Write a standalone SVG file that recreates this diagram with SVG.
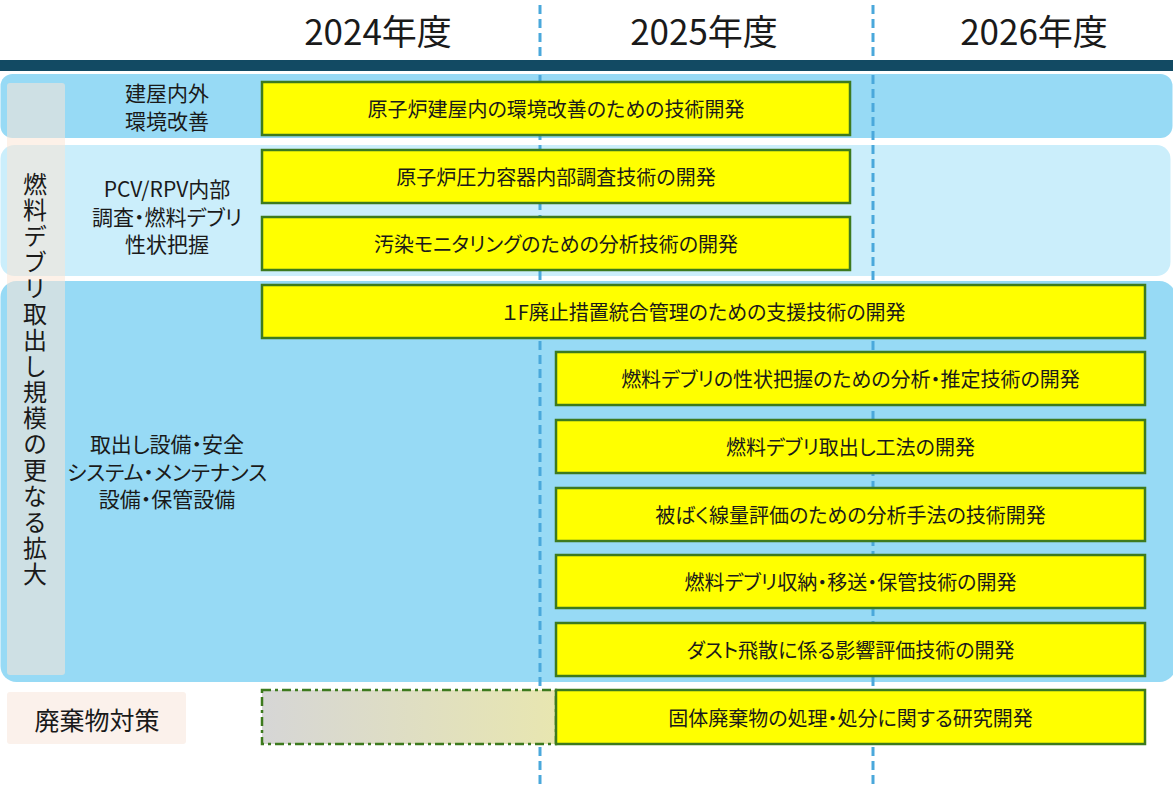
<svg xmlns="http://www.w3.org/2000/svg" width="1173" height="789" viewBox="0 0 1173 789">
<style>
text{font-family:"Noto Sans CJK JP","Noto Sans",sans-serif;fill:#1a1a1a;font-feature-settings:"palt"}
.yr{font-size:35px;text-anchor:middle}
.lbl{font-size:21px;text-anchor:middle}
.bt{font-size:20px;text-anchor:middle;dominant-baseline:central}
.box{fill:#ffff00;stroke:#3d7a1e;stroke-width:2.5}
.grid{stroke:#4aa8db;stroke-width:3;stroke-dasharray:9 5;fill:none}
</style>
<defs>
<linearGradient id="gg" x1="0" y1="0" x2="1" y2="0">
<stop offset="0" stop-color="#d6d6d6"/>
<stop offset="1" stop-color="#e8e6b0"/>
</linearGradient>
</defs>
<rect width="1173" height="789" fill="#ffffff"/>
<g id="bands">
<rect x="0.5" y="74" width="1172" height="64" rx="12" fill="#97daf5"/>
<rect x="0.5" y="145" width="1170" height="131" rx="14" fill="#cbeefb"/>
<rect x="0.5" y="281" width="1175" height="401" rx="16" fill="#97daf5"/>
<rect x="7" y="83" width="58" height="592" rx="3" fill="#fbe5d6" opacity="0.55"/>
</g>
<g id="connectors">
<line class="grid" x1="540" y1="5" x2="540" y2="786"/>
<line class="grid" x1="873" y1="5" x2="873" y2="786"/>
</g>
<rect id="header-bar" x="0" y="60" width="1173" height="11" fill="#124a63"/>
<g id="years">
<text class="yr" x="378" y="45">2024年度</text>
<text class="yr" x="704" y="45">2025年度</text>
<text class="yr" x="1034" y="45">2026年度</text>
</g>
<g id="category">
<text x="35" y="380" style="writing-mode:vertical-rl;font-size:24px;letter-spacing:2px;text-anchor:middle">燃料デブリ取出し規模の更なる拡大</text>
</g>
<g id="label-env">
<text class="lbl" x="167" y="101"><tspan x="167">建屋内外</tspan><tspan x="167" dy="27.5">環境改善</tspan></text>
</g>
<g id="label-pcv">
<text class="lbl" x="167" y="197"><tspan x="167">PCV/RPV内部</tspan><tspan x="167" dy="27.5">調査・燃料デブリ</tspan><tspan x="167" dy="27.5">性状把握</tspan></text>
</g>
<g id="label-equip">
<text class="lbl" x="167" y="452"><tspan x="167">取出し設備・安全</tspan><tspan x="167" dy="27.5">システム・メンテナンス</tspan><tspan x="167" dy="27.5">設備・保管設備</tspan></text>
</g>
<g id="label-waste">
<rect x="7" y="692" width="179" height="52" rx="3" fill="#fbf1eb"/>
<text x="97" y="719" style="font-size:25px;text-anchor:middle;dominant-baseline:central">廃棄物対策</text>
</g>
<g id="task1"><rect class="box" x="262" y="82" width="588" height="53"/><text class="bt" x="556" y="108.5">原子炉建屋内の環境改善のための技術開発</text></g>
<g id="task2"><rect class="box" x="262" y="150" width="588" height="53"/><text class="bt" x="556" y="176.5">原子炉圧力容器内部調査技術の開発</text></g>
<g id="task3"><rect class="box" x="262" y="217" width="588" height="53"/><text class="bt" x="556" y="243.5">汚染モニタリングのための分析技術の開発</text></g>
<g id="task4"><rect class="box" x="262" y="285" width="883" height="53"/><text class="bt" x="704" y="311.5">１F廃止措置統合管理のための支援技術の開発</text></g>
<g id="task5"><rect class="box" x="556" y="352" width="589" height="53"/><text class="bt" x="850.5" y="378.5">燃料デブリの性状把握のための分析・推定技術の開発</text></g>
<g id="task6"><rect class="box" x="556" y="420" width="589" height="53"/><text class="bt" x="850.5" y="446.5">燃料デブリ取出し工法の開発</text></g>
<g id="task7"><rect class="box" x="556" y="488" width="589" height="53"/><text class="bt" x="850.5" y="514.5">被ばく線量評価のための分析手法の技術開発</text></g>
<g id="task8"><rect class="box" x="556" y="555" width="589" height="53"/><text class="bt" x="850.5" y="581.5">燃料デブリ収納・移送・保管技術の開発</text></g>
<g id="task9"><rect class="box" x="556" y="623" width="589" height="53"/><text class="bt" x="850.5" y="649.5">ダスト飛散に係る影響評価技術の開発</text></g>
<g id="task-waste-prep"><rect x="262" y="690" width="294" height="54" fill="url(#gg)" stroke="#3d7a1e" stroke-width="2.5" stroke-dasharray="9 4 3 4"/></g>
<g id="task10"><rect class="box" x="556" y="690" width="589" height="54"/><text class="bt" x="850.5" y="717">固体廃棄物の処理・処分に関する研究開発</text></g>
</svg>
